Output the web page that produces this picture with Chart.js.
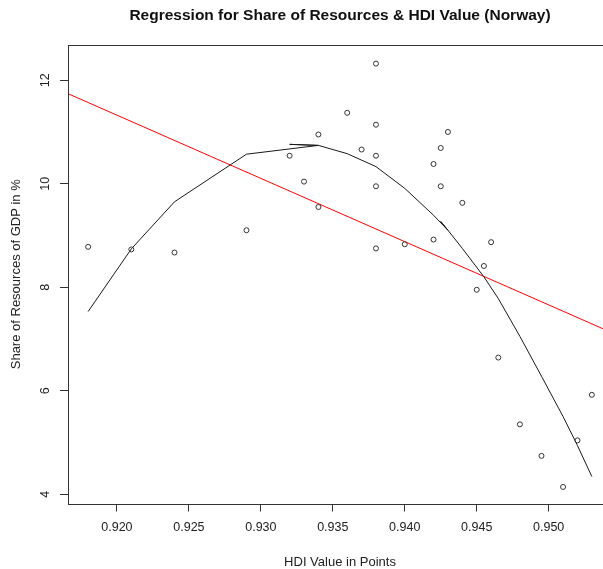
<!DOCTYPE html>
<html>
<head>
<meta charset="utf-8">
<script src="https://cdn.jsdelivr.net/npm/chart.js@4/dist/chart.umd.min.js"></script>
<style>
html,body{margin:0;padding:0;overflow:hidden;background:#fff;width:603px;height:569px;}
#wrap{width:620px;height:569px;}
</style>
</head>
<body>
<div id="wrap"><canvas id="c" width="620" height="569"></canvas></div>
<script>
// Observed data points (HDI value, share of resources of GDP in %)
const hdiValues = [0.918,0.921,0.924,0.929,0.932,0.933,0.934,0.934,0.936,0.937,0.938,0.938,0.938,0.938,0.938,0.940,0.942,0.942,0.9425,0.9425,0.943,0.944,0.945,0.9455,0.946,0.9465,0.948,0.9495,0.951,0.952,0.953];
const resourceShare = [8.78,8.73,8.67,9.10,10.54,10.04,10.95,9.55,11.37,10.66,12.32,11.14,10.54,9.95,8.75,8.83,10.38,8.92,10.69,9.95,11.00,9.63,7.95,8.41,8.87,6.64,5.35,4.74,4.14,5.04,5.92];

// Polynomial fit line, vertices in drawing order
const fitX = [0.918,0.921,0.924,0.929,0.934,0.932,0.934,0.936,0.938,0.940,0.942,0.943,0.9425,0.943,0.944,0.9455,0.9465,0.948,0.9495,0.951,0.952,0.953];
const fitY = [7.53,8.74,9.65,10.57,10.74,10.76,10.74,10.58,10.33,9.91,9.39,9.10,9.27,9.10,8.75,8.20,7.78,7.05,6.28,5.50,4.94,4.34];

// Linear regression line end points
const linX = [0.9166,0.9544];
const linY = [11.74,7.12];

// Axis ticks and ranges
const xTicks = [0.920,0.925,0.930,0.935,0.940,0.945,0.950];
const yTicks = [4,6,8,10,12];
const xRange = [0.9166,0.9544];
const yRange = [3.82,12.68];

const FONT = '"Liberation Sans", Arial, Helvetica, sans-serif';
const TXT = '#222';
const AX = '#333';

const pts = hdiValues.map((x,i)=>({x:x,y:resourceShare[i]}));
const fit = fitX.map((x,i)=>({x:x,y:fitY[i]}));
const lin = linX.map((x,i)=>({x:x,y:linY[i]}));

const framePlugin = {
  id:'frame',
  afterDraw(chart){
    const ctx = chart.ctx, ca = chart.chartArea;
    ctx.save();
    ctx.strokeStyle = AX; ctx.lineWidth = 1;
    ctx.strokeRect(Math.round(ca.left)+0.5, Math.round(ca.top)+0.5, Math.round(ca.right-ca.left), Math.round(ca.bottom-ca.top));
    const ys = chart.scales.y;
    ctx.fillStyle = TXT;
    ctx.font = '12.5px ' + FONT;
    ctx.textAlign = 'center';
    ctx.textBaseline = 'middle';
    yTicks.forEach(v=>{
      const py = ys.getPixelForValue(v);
      ctx.save();
      ctx.translate(46, py);
      ctx.rotate(-Math.PI/2);
      ctx.fillText(String(v), 0, 0);
      ctx.restore();
    });
    ctx.restore();
  }
};

new Chart(document.getElementById('c'), {
  type:'scatter',
  data:{
    datasets:[
      {data:pts, showLine:false, pointRadius:2.5, pointHoverRadius:2.5, pointBorderColor:'#333', pointBackgroundColor:'rgba(0,0,0,0)', pointBorderWidth:1, order:1},
      {data:fit, showLine:true, borderColor:'#1a1a1a', borderWidth:1, pointRadius:0, pointHoverRadius:0, fill:false, tension:0, order:2},
      {data:lin, showLine:true, borderColor:'#ff0000', borderWidth:1, pointRadius:0, pointHoverRadius:0, fill:false, tension:0, order:3}
    ]
  },
  options:{
    responsive:false,
    animation:false,
    events:[],
    layout:{padding:{left:0,right:8,top:0,bottom:0}},
    plugins:{
      legend:{display:false},
      tooltip:{enabled:false},
      title:{
        display:true,
        fullSize:false,
        text:'Regression for Share of Resources & HDI Value (Norway)',
        color:'#111',
        font:{family:FONT,size:15.5,weight:'bold',lineHeight:1.2},
        padding:{top:6.7,bottom:19.7}
      }
    },
    scales:{
      x:{
        type:'linear',
        min:xRange[0], max:xRange[1],
        afterBuildTicks(s){ s.ticks = xTicks.map(v=>({value:v})); },
        afterFit(s){ s.height = 65.5; },
        border:{display:false},
        grid:{display:true, drawOnChartArea:false, drawTicks:true, tickLength:8, color:AX, lineWidth:1},
        ticks:{autoSkip:false, maxRotation:0, minRotation:0, padding:9, color:TXT, font:{family:FONT,size:12.5}, callback:(v)=>Number(v).toFixed(3)},
        title:{display:true, text:'HDI Value in Points', color:TXT, font:{family:FONT,size:13,lineHeight:1}, padding:{top:0,bottom:0}}
      },
      y:{
        type:'linear',
        min:yRange[0], max:yRange[1],
        afterBuildTicks(s){ s.ticks = yTicks.map(v=>({value:v})); },
        afterFit(s){ s.width = 68; },
        border:{display:false},
        grid:{display:true, drawOnChartArea:false, drawTicks:true, tickLength:8, color:AX, lineWidth:1},
        ticks:{color:'rgba(0,0,0,0)', font:{family:FONT,size:12.5}, padding:4},
        title:{display:true, text:'Share of Resources of GDP in %', color:TXT, font:{family:FONT,size:13,lineHeight:1.2}, padding:{top:8.2,bottom:0}}
      }
    }
  },
  plugins:[framePlugin]
});
</script>
</body>
</html>
